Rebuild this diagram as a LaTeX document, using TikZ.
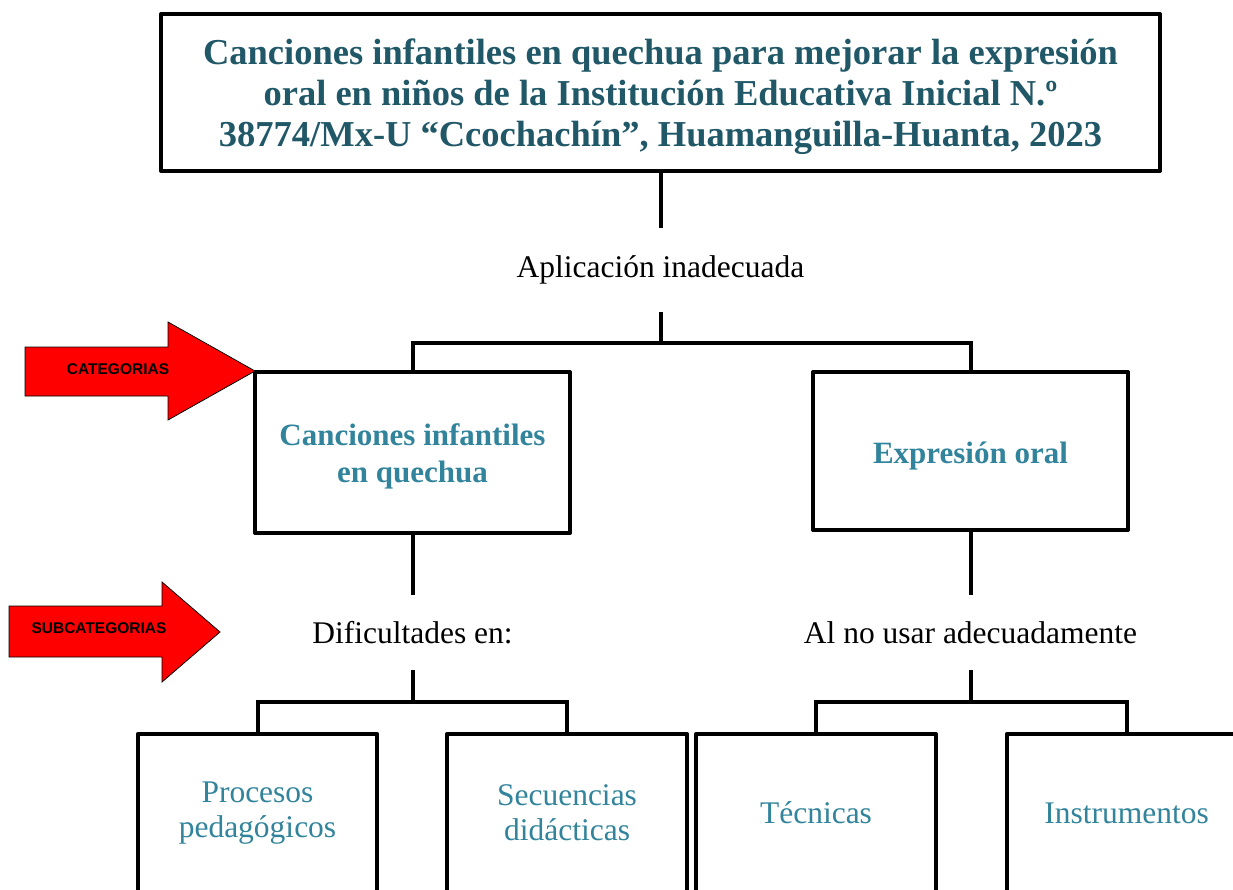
\documentclass[tikz,border=0pt]{standalone}
\usepackage{fontspec}
\setmainfont{Liberation Serif}
\newfontfamily\arialf{Liberation Sans}
\definecolor{titlec}{HTML}{215868}
\definecolor{tealc}{HTML}{31849B}
\begin{document}
\begin{tikzpicture}[x=1pt,y=-1pt,
  box/.style={draw=black, line width=4pt, rectangle, inner sep=0pt, line join=round},
  openbox/.style={rectangle, inner sep=0pt, align=center},
  conn/.style={draw=black, line width=4pt},
  plain/.style={inner sep=0pt, align=center, font=\fontsize{31.5}{36}\selectfont},
  cattext/.style={inner sep=0pt, align=center, text=tealc, font=\bfseries\fontsize{31}{37}\selectfont},
  subtext/.style={text=tealc, font=\fontsize{31.5}{35}\selectfont},
  redarrow/.style={fill=red, draw=black, line width=0.8pt, line join=miter},
  arrowlabel/.style={inner sep=0pt, font=\arialf\bfseries\fontsize{15.5}{17}\selectfont}]
\useasboundingbox (0,0) rectangle (1233,889);
\clip (0,0) rectangle (1233,889);
\fill[white] (0,0) rectangle (1233,889);

% title
\node[box, minimum width=999pt, minimum height=157pt] (title) at (660.5,92.5) {};
\node[inner sep=0pt, align=center, text=titlec, font=\bfseries\fontsize{36.5}{41}\selectfont]
  (titletext) at ([yshift=-4pt]title.center)
  {Canciones infantiles en quechua para mejorar la expresión\\
   oral en niños de la Institución Educativa Inicial N.º\\
   38774/Mx-U “Ccochachín”, Huamanguilla-Huanta, 2023};

\node[plain, minimum height=84pt] (app) at (660.5,270) {Aplicación inadecuada};

% categories
\node[box, minimum width=315pt, minimum height=161pt] (cat1) at (412.5,452.5) {};
\node[cattext] (cat1t) at ([yshift=-4pt]cat1.center) {Canciones infantiles\\en quechua};
\node[box, minimum width=315pt, minimum height=158pt] (cat2) at (970.5,451) {};
\node[cattext] (cat2t) at ([yshift=-5pt]cat2.center) {Expresión oral};

\node[plain, minimum height=75pt] (dif) at (412.5,632.5) {Dificultades en:};
\node[plain, minimum height=75pt] (alno) at (970.5,632.5) {Al no usar adecuadamente};

% subcategories (open at the bottom, cut by the page edge)
\node[openbox, subtext, minimum width=239pt, minimum height=158pt] (b1) at (257.5,813) {Procesos\\pedagógicos};
\node[openbox, subtext, minimum width=239pt, minimum height=158pt] (b2) at (567,813) {Secuencias\\didácticas};
\node[openbox, subtext, minimum width=239pt, minimum height=158pt] (b3) at (816,813) {Técnicas};
\node[openbox, subtext, minimum width=239pt, minimum height=158pt] (b4) at (1126.5,813) {Instrumentos};
\foreach \b in {b1,b2,b3,b4}
  \draw[conn, line join=round] ([yshift=-8pt]\b.south west) -- (\b.north west) -- (\b.north east) -- ([yshift=-8pt]\b.south east);

% junctions
\coordinate (j1) at (660.5,343);
\coordinate (j2) at (412.5,702);
\coordinate (j3) at (970.5,702);

% connectors
\draw[conn] (title.south) -- (app.north);
\draw[conn] (app.south) -- (j1);
\draw[conn] (cat1.north) |- (j1) -| (cat2.north);
\draw[conn] (cat1.south) -- (dif.north);
\draw[conn] (cat2.south) -- (alno.north);
\draw[conn] (dif.south) -- (j2);
\draw[conn] (b1.north) |- (j2) -| (b2.north);
\draw[conn] (alno.south) -- (j3);
\draw[conn] (b3.north) |- (j3) -| (b4.north);

% red arrows
\draw[redarrow] (25,347) -- (168,347) -- (168,322) -- (255,371) -- (168,420) -- (168,396) -- (25,396) -- cycle;
\node[arrowlabel] (lcat) at (118,369) {CATEGORIAS};
\draw[redarrow] (9,606) -- (162,606) -- (162,582) -- (220,632) -- (162,682) -- (162,657) -- (9,657) -- cycle;
\node[arrowlabel] (lsub) at (99,628) {SUBCATEGORIAS};
\end{tikzpicture}
\end{document}
